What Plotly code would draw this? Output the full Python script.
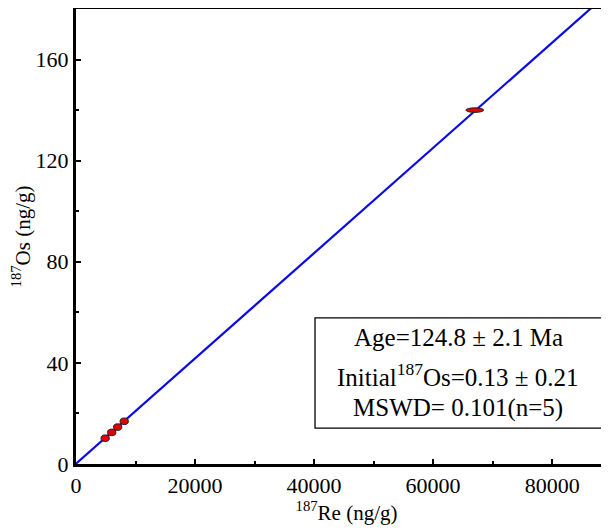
import plotly.graph_objects as go

# Data
re187 = [4900, 6000, 7000, 8100, 67000]        # 187Re (ng/g)
os187 = [10.2, 12.5, 14.6, 16.9, 140.0]        # 187Os (ng/g)
re_err = [700, 700, 700, 700, 1500]
os_err = [1.3, 1.3, 1.3, 1.3, 0.9]

iso_slope = 0.002082
iso_intercept = 0.13
iso_x = [0, 92000]
iso_y = [iso_intercept + iso_slope * v for v in iso_x]

x_ticks = [0, 20000, 40000, 60000, 80000]
y_ticks = [0, 40, 80, 120, 160]

FONT = "Liberation Serif"

fig = go.Figure()
fig.add_trace(go.Scatter(x=iso_x, y=iso_y, mode="lines",
                         line=dict(color="#0a0ae6", width=2.2),
                         showlegend=False, hoverinfo="skip"))

shapes = []
for x, y, ex, ey in zip(re187, os187, re_err, os_err):
    shapes.append(dict(type="circle", xref="x", yref="y",
                       x0=x - ex, x1=x + ex, y0=y - ey, y1=y + ey,
                       fillcolor="#e00000", line=dict(color="#222222", width=1)))

# stats box
shapes.append(dict(type="rect", xref="paper", yref="paper",
                   x0=0.4418, x1=0.9723, y0=0.079, y1=0.321,
                   line=dict(color="black", width=1.3), fillcolor="white", layer="above"))

fig.update_layout(shapes=shapes)

PM = "\u2005\u00b1\u2005"
anns = [
    ("Age=124.8" + PM + "2.1 Ma", 0.279),
    ("Initial<sup>187</sup>Os=0.13" + PM + "0.21", 0.196),
    ("MSWD= 0.101(n=5)", 0.123),
]
for txt, yy in anns:
    fig.add_annotation(text=txt, xref="paper", yref="paper", x=0.7061, y=yy,
                       showarrow=False, xanchor="center", yanchor="middle",
                       font=dict(family=FONT, size=25, color="black"))

fig.update_xaxes(range=[0, 90900], tickvals=x_ticks, ticktext=[str(v) for v in x_ticks],
                 ticks="inside", ticklen=5, tickwidth=2, tickcolor="black",
                 minor=dict(dtick=10000, ticks="inside", ticklen=3, tickwidth=2, tickcolor="black"),
                 showline=True, linecolor="black", linewidth=3, mirror=True,
                 showgrid=False, zeroline=False, automargin=False,
                 tickfont=dict(family=FONT, size=22, color="black"),
                 title=dict(text="<sup>187</sup>Re (ng/g)", font=dict(family=FONT, size=21, color="black"),
                            standoff=2))
fig.update_yaxes(range=[0, 180], tickvals=y_ticks, ticktext=[str(v) for v in y_ticks],
                 ticks="inside", ticklen=5, tickwidth=2, tickcolor="black",
                 minor=dict(dtick=20, ticks="inside", ticklen=3, tickwidth=2, tickcolor="black"),
                 showline=True, linecolor="black", linewidth=3, mirror=False,
                 showgrid=False, zeroline=False, automargin=False,
                 tickfont=dict(family=FONT, size=22, color="black"),
                 title=dict(text="<sup>187</sup>Os (ng/g)", font=dict(family=FONT, size=21, color="black"),
                            standoff=6))

# the page adds an 8px body margin, so the figure is placed to compensate;
# the plot area runs past the right edge of the window, as in the reference
fig.update_layout(width=609, height=522, margin=dict(l=68, r=0, t=1, b=66),
                  plot_bgcolor="white", paper_bgcolor="white", showlegend=False)

fig.write_html("out.html")
